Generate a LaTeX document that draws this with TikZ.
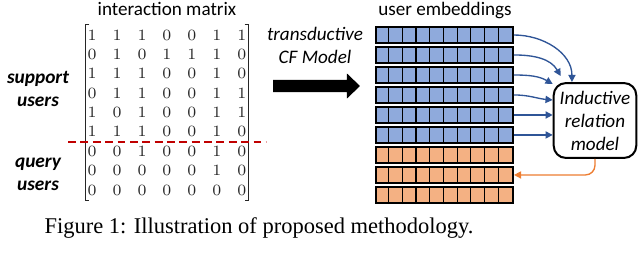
\documentclass[tikz,border=0pt]{standalone}
\usepackage[no-math]{fontspec}
\setmainfont{Liberation Serif}
\setsansfont{Carlito}
\usetikzlibrary{arrows.meta, positioning, calc, matrix}
\definecolor{embblue}{RGB}{143, 170, 220}
\definecolor{emborange}{RGB}{244, 177, 131}
\definecolor{linkblue}{RGB}{47, 85, 151}
\definecolor{linkorange}{RGB}{237, 125, 49}
\definecolor{splitred}{RGB}{192, 0, 0}

\begin{document}
\begin{tikzpicture}[
    lbl/.style={font=\sffamily\fontsize{8.5}{10.2}\selectfont,
                align=center, inner sep=0pt},
    grp/.style={font=\sffamily\bfseries\itshape\fontsize{8.6}{10.2}\selectfont,
                align=center, inner sep=0pt},
    emb/.style={draw, line width=0.9pt, minimum width=2.14cm,
                minimum height=0.25cm, inner sep=0pt},
    brk/.style={draw=black!85, line width=0.6pt},
    link/.style={draw=linkblue, line width=0.6pt,
                 -{Triangle[length=3.2pt, width=3.2pt]}},
]
\useasboundingbox (0, 0) rectangle (9.969, 4.25);

% -- Headings --
\node[lbl, anchor=base] (imat) at (2.609, 4.0) {interaction matrix};
\node[lbl, anchor=base] (uemb) at (6.953, 4.0) {user embeddings};

% -- Interaction matrix --
\matrix (mat) [matrix of math nodes, inner sep=0pt,
    column sep=0pt, row sep=0pt,
    nodes={font=\fontsize{7}{8}\selectfont, text=black!85,
           minimum width=0.39cm, minimum height=0.303cm,
           inner sep=0pt}]
    at (2.609, 2.492) {
    1 & 1 & 1 & 0 & 0 & 1 & 1 \\
    0 & 1 & 0 & 1 & 1 & 1 & 0 \\
    1 & 1 & 1 & 0 & 0 & 1 & 0 \\
    0 & 1 & 1 & 0 & 0 & 1 & 1 \\
    1 & 0 & 1 & 0 & 0 & 1 & 1 \\
    1 & 1 & 1 & 0 & 0 & 1 & 0 \\
    0 & 0 & 1 & 0 & 0 & 1 & 0 \\
    0 & 0 & 0 & 0 & 0 & 1 & 0 \\
    0 & 0 & 0 & 0 & 0 & 0 & 0 \\
};
\draw[brk] ([xshift=0.16cm]mat.north west) -- ([xshift=0.1cm]mat.north west)
    -- ([xshift=0.1cm]mat.south west) -- ([xshift=0.16cm]mat.south west);
\draw[brk] ([xshift=-0.16cm]mat.north east) -- ([xshift=-0.1cm]mat.north east)
    -- ([xshift=-0.1cm]mat.south east) -- ([xshift=-0.16cm]mat.south east);

% -- Support / query split --
\draw[splitred, line width=0.7pt, dash pattern=on 3.5pt off 2pt]
    (1.063, 2.031) -- (4.156, 2.031);
\node[grp] (sup) at (0.594, 2.859) {support\\users};
\node[grp] (qry) at (0.594, 1.531) {query\\users};

% -- Transductive model arrow --
\node[lbl, font=\sffamily\itshape\fontsize{8.5}{10.2}\selectfont]
    (cf) at (4.922, 3.54) {transductive\\CF Model};
\coordinate (cfa) at (4.266, 2.906);
\fill (cfa) ++(0, 0.094) -- ++(1.156, 0) -- ++(0, 0.101)
    -- ++(0.203, -0.195) -- ++(-0.203, -0.195) -- ++(0, 0.101)
    -- ++(-1.156, 0) -- cycle;

% -- Embedding rows --
\node[emb, fill=embblue] (e1) at (6.945, 3.703) {};
\node[emb, fill=embblue] (e2) at (6.945, 3.391) {};
\node[emb, fill=embblue] (e3) at (6.945, 3.078) {};
\node[emb, fill=embblue] (e4) at (6.945, 2.766) {};
\node[emb, fill=embblue] (e5) at (6.945, 2.453) {};
\node[emb, fill=embblue] (e6) at (6.945, 2.141) {};
\node[emb, fill=emborange] (e7) at (6.945, 1.828) {};
\node[emb, fill=emborange] (e8) at (6.945, 1.516) {};
\node[emb, fill=emborange] (e9) at (6.945, 1.203) {};
\foreach \r in {1,...,9} {
    \foreach \k in {1,...,9} {
        \draw[line width=0.55pt]
            ([xshift=\k*0.214cm]e\r.south west)
            -- ([xshift=\k*0.214cm]e\r.north west);
    }
}

% -- Inductive relation model --
\node[draw, line width=0.9pt, rounded corners=0.19cm,
      minimum width=1.29cm, minimum height=1.17cm, inner sep=0pt,
      align=center, font=\sffamily\itshape\fontsize{8.5}{10.2}\selectfont]
    (irm) at (9.297, 2.367) {Inductive\\relation\\model};

% -- Support embeddings into the model --
\draw[link] (e1.east) to[out=0, in=90] ([xshift=-0.36cm]irm.north);
\draw[link] (e2.east) to[out=0, in=120]
    ([shift={(0.125cm, 0.094cm)}]irm.north west);
\draw[link] (e3.east) to[out=0, in=150] ([yshift=-0.03cm]irm.north west);
\draw[link] (e4.east) to[out=0, in=175] ([yshift=0.32cm]irm.west);
\draw[link] (e5.east) -- (e5.east -| irm.west);
\draw[link] (e6.east) -- (e6.east -| irm.west);

% -- Model back to a query embedding --
\draw[draw=linkorange, line width=0.6pt, rounded corners=0.15cm,
      -{Triangle[length=3.2pt, width=3.2pt]}]
    (irm.south) |- (e8.east);

% -- Caption --
\node[font=\fontsize{10}{12}\selectfont, anchor=base, inner sep=0pt]
    (cap) at (4.047, 0.609) {Figure 1: Illustration of proposed methodology.};

\end{tikzpicture}
\end{document}
